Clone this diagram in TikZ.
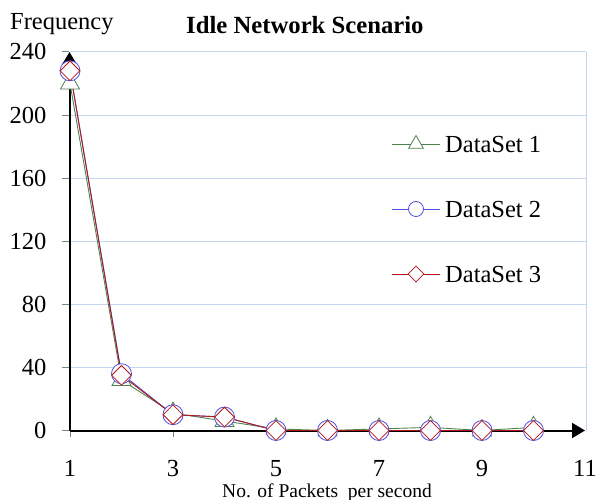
\documentclass[tikz,border=0pt]{standalone}
\usepackage{fontspec}
\setmainfont{Liberation Serif}
\usetikzlibrary{arrows.meta,shapes.geometric}
\definecolor{gridblue}{RGB}{195,215,240}
\definecolor{tickgray}{RGB}{128,128,128}
\definecolor{dsgreen}{RGB}{80,130,80}
\definecolor{dsblue}{RGB}{80,80,230}
\definecolor{dsred}{RGB}{180,20,20}
\tikzset{
  gridline/.style={draw=gridblue,line width=0.9pt},
  tickline/.style={draw=tickgray,line width=0.8pt},
  axisline/.style={draw=black,line width=2pt,-{Triangle[length=13pt,width=15pt]}},
  lbl/.style={font=\fontsize{24.5}{25}\selectfont,inner sep=0pt},
  ytick/.style={lbl,anchor=east},
  xtick/.style={lbl,anchor=base},
  serA/.style={draw=dsgreen,line width=0.9pt},
  serB/.style={draw=dsblue,line width=0.9pt},
  serC/.style={draw=dsred,line width=0.9pt},
  mkA/.style={regular polygon,regular polygon sides=3,minimum size=22pt,inner sep=0pt,draw=dsgreen,fill=white,line width=0.8pt},
  mkB/.style={circle,minimum size=20pt,inner sep=0pt,draw=dsblue,fill=white,line width=0.8pt},
  mkC/.style={diamond,minimum size=20pt,inner sep=0pt,draw=dsred,fill=white,line width=0.8pt},
  lgA/.style={mkA,minimum size=17pt},
  lgB/.style={mkB,minimum size=15pt},
  lgC/.style={mkC,minimum size=16pt},
}
\begin{document}
\begin{tikzpicture}[x=1pt,y=-1pt]
\useasboundingbox (0,0) rectangle (598,500);
% gridlines
\foreach \v in {40,80,...,240}{
  \draw[gridline] (70,{430.5-1.5775*\v}) -- (586,{430.5-1.5775*\v});
}
\draw[gridline] (586,51.9) -- (586,430.5);
% ticks
\foreach \v in {0,40,...,240}{
  \draw[tickline] (62,{430.5-1.5775*\v}) -- (69,{430.5-1.5775*\v});
  \node[ytick] (yl\v) at (46.5,{430.5-1.5775*\v}) {\v};
}
\foreach \i in {1,3,5,7,9}{
  \draw[tickline] ({70+51.5*(\i-1)},430.5) -- ({70+51.5*(\i-1)},437);
}
\foreach \i in {1,3,5,7,9,11}{
  \node[xtick] (xl\i) at ({70+51.5*(\i-1)},476) {\i};
}
% axes
\coordinate (origin) at (69.5,430.5);
\coordinate (ytop) at (69.5,52);
\coordinate (xend) at (585,430.5);
\draw[axisline] (origin) -- (ytop);
\draw[axisline] (origin) -- (xend);
% data points
\def\dsA{220,32,11,6,1,0,1,2,0,2}
\def\dsB{228,36,10,8.5,0,0,0,0,0,0}
\def\dsC{228,35,10,8.5,0,0,0,0,0,0}
\foreach \v [count=\i] in \dsA { \coordinate (a\i) at ({70+51.5*(\i-1)},{430.5-1.5775*\v}); }
\foreach \v [count=\i] in \dsB { \coordinate (b\i) at ({70+51.5*(\i-1)},{430.5-1.5775*\v}); }
\foreach \v [count=\i] in \dsC { \coordinate (c\i) at ({70+51.5*(\i-1)},{430.5-1.5775*\v}); }
% lines
\draw[serA] (a1) -- (a2) -- (a3) -- (a4) -- (a5) -- (a6) -- (a7) -- (a8) -- (a9) -- (a10);
\draw[serB] (b1) -- (b2) -- (b3) -- (b4) -- (b5) -- (b6) -- (b7) -- (b8) -- (b9) -- (b10);
\draw[serC] (c1) -- (c2) -- (c3) -- (c4) -- (c5) -- (c6) -- (c7) -- (c8) -- (c9) -- (c10);
% markers
\foreach \i in {1,...,10}{ \node[mkA] (ma\i) at (a\i) {}; }
\foreach \i in {1,...,10}{ \node[mkB] (mb\i) at (b\i) {}; }
\foreach \i in {1,...,10}{ \node[mkC] (mc\i) at (c\i) {}; }
% legend
\coordinate (la0) at (392,144); \coordinate (la1) at (440,144);
\coordinate (lb0) at (392,209); \coordinate (lb1) at (440,209);
\coordinate (lc0) at (392,274); \coordinate (lc1) at (440,274);
\draw[serA] (la0) -- (la1);
\draw[serB] (lb0) -- (lb1);
\draw[serC] (lc0) -- (lc1);
\node[lgA] (lma) at (416,144) {};
\node[lgB] (lmb) at (416,209) {};
\node[lgC] (lmc) at (416,274) {};
\node[lbl,anchor=base west] (lta) at (445,153) {DataSet 1};
\node[lbl,anchor=base west] (ltb) at (445,218) {DataSet 2};
\node[lbl,anchor=base west] (ltc) at (445,283) {DataSet 3};
% titles
\node[lbl,anchor=base west] (ylab) at (10,30) {Frequency};
\node[lbl,anchor=base west,font=\fontsize{24.7}{25}\selectfont\bfseries] (title) at (186,34) {Idle Network Scenario};
\node[inner sep=0pt,anchor=base,font=\fontsize{19.5}{20}\selectfont] (xlab) at (327,497) {No. of Packets\ \ per second};
\end{tikzpicture}
\end{document}
